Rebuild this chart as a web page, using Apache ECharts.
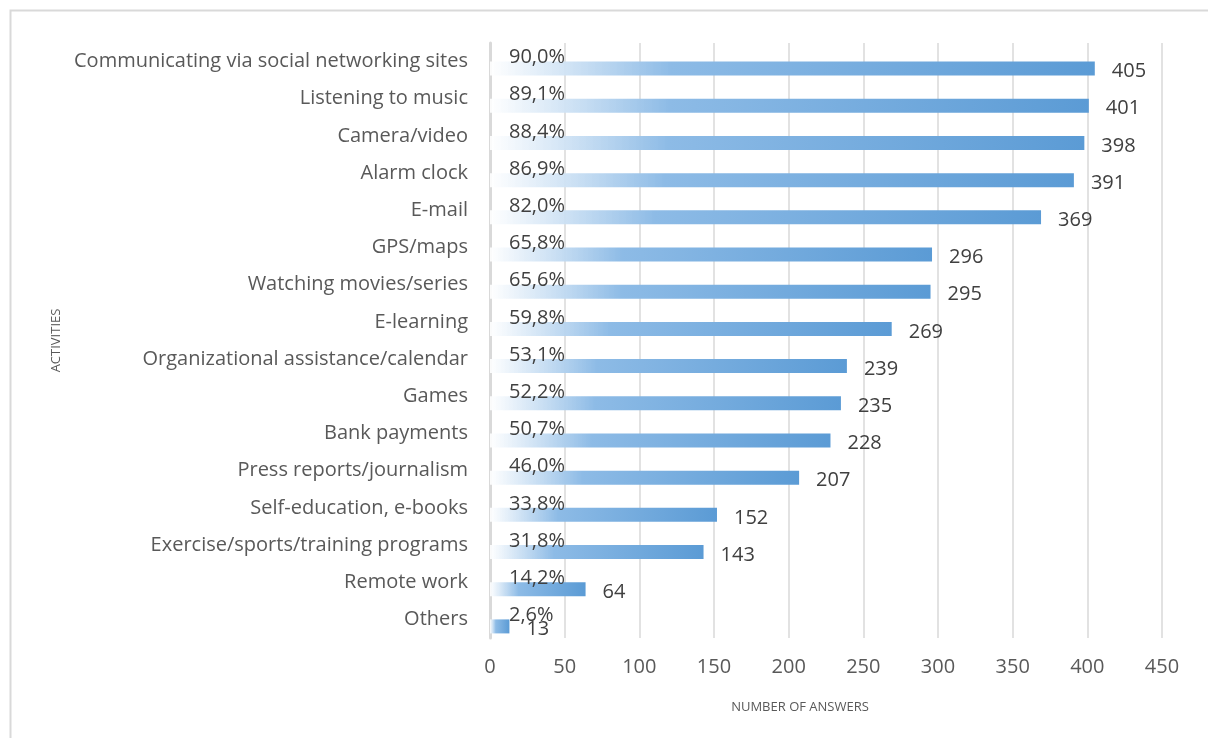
<!DOCTYPE html>
<html>
<head>
<meta charset="utf-8">
<script src="https://cdn.jsdelivr.net/npm/echarts@6/dist/echarts.min.js"></script>
<style>
  html, body { margin: 0; padding: 0; background: #fff; }
  #chart { width: 1208px; height: 738px; }
</style>
</head>
<body>
<div id="chart"></div>
<script>
// top to bottom, as in the picture
const activities = [
  "Communicating via social networking sites",
  "Listening to music",
  "Camera/video",
  "Alarm clock",
  "E-mail",
  "GPS/maps",
  "Watching movies/series",
  "E-learning",
  "Organizational assistance/calendar",
  "Games",
  "Bank payments",
  "Press reports/journalism",
  "Self-education, e-books",
  "Exercise/sports/training programs",
  "Remote work",
  "Others"
]
const answers = [405, 401, 398, 391, 369, 296, 295, 269, 239, 235, 228, 207, 152, 143, 64, 13]
const percents = ["90,0%", "89,1%", "88,4%", "86,9%", "82,0%", "65,8%", "65,6%", "59,8%",
  "53,1%", "52,2%", "50,7%", "46,0%", "33,8%", "31,8%", "14,2%", "2,6%"]
const xTicks = [0, 50, 100, 150, 200, 250, 300, 350, 400, 450]

const font = "'Open Sans', 'Noto Sans', sans-serif"
const chart = echarts.init(document.getElementById("chart"))

const barFill = new echarts.graphic.LinearGradient(0, 0, 1, 0, [
  { offset: 0, color: "rgba(255,255,255,0.9)" },
  { offset: 0.3, color: "#8dbbe6" },
  { offset: 1, color: "#5b9bd5" }
])

chart.setOption({
  animation: false,
  textStyle: { fontFamily: font },
  graphic: [{
    type: "rect",
    shape: { x: 10.5, y: 10.5, width: 1300, height: 900 },
    style: { fill: "none", stroke: "#d9d9d9", lineWidth: 2 },
    silent: true
  }],
  grid: { left: 490, right: 46, top: 43, bottom: 100 },
  xAxis: {
    type: "value",
    min: xTicks[0],
    max: xTicks[xTicks.length - 1],
    interval: 50,
    name: "NUMBER OF ANSWERS",
    nameLocation: "middle",
    nameGap: 63,
    nameTextStyle: { fontSize: 13, color: "#595959", fontFamily: font, padding: [0, 52, 0, 0] },
    axisLine: { show: false },
    axisTick: { show: false },
    axisLabel: { fontSize: 20, color: "#595959", margin: 19 },
    splitLine: { lineStyle: { color: "#d9d9d9", width: 1.5 } }
  },
  yAxis: {
    type: "category",
    inverse: true,
    data: activities,
    name: "ACTIVITIES",
    nameLocation: "middle",
    nameRotate: 90,
    nameGap: 426,
    nameTextStyle: { fontSize: 13, color: "#595959", fontFamily: font },
    axisLine: { show: true, lineStyle: { color: "#d9d9d9", width: 3 } },
    axisTick: { show: false },
    axisLabel: { fontSize: 20, color: "#595959", margin: 22, padding: [6, 0, 0, 0] }
  },
  series: [
    {
      name: "share",
      type: "bar",
      data: answers,
      barWidth: 14,
      barGap: "0%",
      itemStyle: { color: "rgba(0,0,0,0)" },
      label: {
        show: true,
        position: "insideLeft",
        distance: 19,
        offset: [0, 3],
        fontSize: 20,
        color: "#404040",
        formatter: (p) => percents[p.dataIndex]
      },
      z: 3
    },
    {
      name: "answers",
      type: "bar",
      data: answers,
      barWidth: 14,
      barGap: "0%",
      itemStyle: { color: barFill },
      label: {
        show: true,
        position: "right",
        distance: 17,
        offset: [0, 3],
        fontSize: 20,
        color: "#404040"
      }
    }
  ]
})
</script>
</body>
</html>
